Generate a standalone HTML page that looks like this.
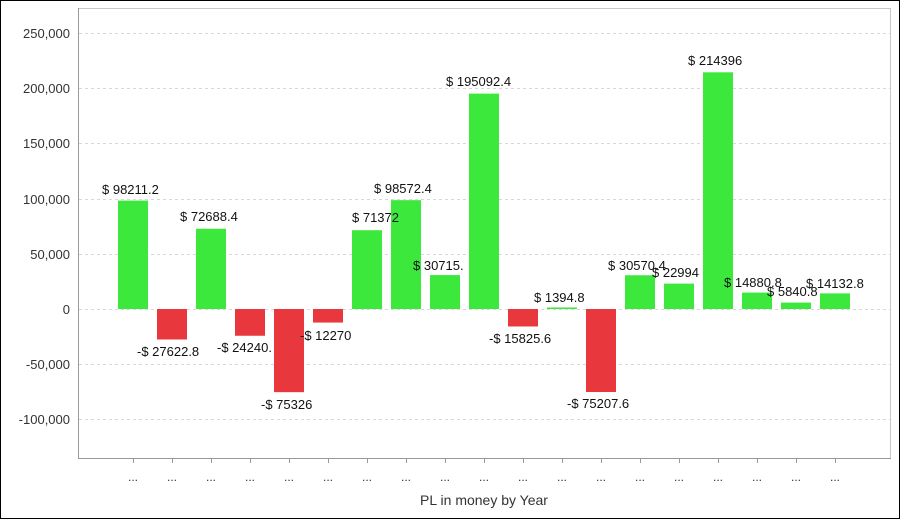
<!DOCTYPE html>
<html><head><style>html,body{margin:0;padding:0;background:#fff}svg{display:block}text{font-family:"Liberation Sans",Arial,sans-serif}</style></head>
<body>
<svg width="900" height="519" viewBox="0 0 900 519">
<rect x="0.5" y="0.5" width="899" height="518" fill="#fff" stroke="#000"/>
<rect x="78.5" y="8.5" width="812" height="450" fill="#fff" stroke="#c8c8c8"/>
<g stroke="#d8d8d8" stroke-dasharray="3,3">
<line x1="79" x2="890" y1="33.5" y2="33.5"/><line x1="79" x2="890" y1="88.5" y2="88.5"/><line x1="79" x2="890" y1="143.5" y2="143.5"/><line x1="79" x2="890" y1="199.5" y2="199.5"/><line x1="79" x2="890" y1="254.5" y2="254.5"/><line x1="79" x2="890" y1="309.5" y2="309.5"/><line x1="79" x2="890" y1="364.5" y2="364.5"/><line x1="79" x2="890" y1="419.5" y2="419.5"/>
</g>
<line x1="78.5" y1="8" x2="78.5" y2="459" stroke="#999"/>
<line x1="78" y1="458.5" x2="891" y2="458.5" stroke="#999"/>
<g font-size="13" fill="#333" text-anchor="end">
<text x="70" y="38">250,000</text><text x="70" y="93">200,000</text><text x="70" y="148">150,000</text><text x="70" y="204">100,000</text><text x="70" y="259">50,000</text><text x="70" y="314">0</text><text x="70" y="369">-50,000</text><text x="70" y="424">-100,000</text>
</g>
<g id="bars"></g>
<g font-size="13" fill="#111">
<text x="102" y="194">$ 98211.2</text>
<text x="137" y="356">-$ 27622.8</text>
<text x="180" y="221">$ 72688.4</text>
<text x="217" y="352">-$ 24240.</text>
<text x="261" y="409">-$ 75326</text>
<text x="300" y="340">-$ 12270</text>
<text x="352" y="222">$ 71372</text>
<text x="374" y="193">$ 98572.4</text>
<text x="413" y="270">$ 30715.</text>
<text x="446" y="86">$ 195092.4</text>
<text x="489" y="343">-$ 15825.6</text>
<text x="534" y="302">$ 1394.8</text>
<text x="567" y="408">-$ 75207.6</text>
<text x="608" y="270">$ 30570.4</text>
<text x="652" y="277">$ 22994</text>
<text x="688" y="65">$ 214396</text>
<text x="724" y="287">$ 14880.8</text>
<text x="767" y="296">$ 5840.8</text>
<text x="806" y="288">$ 14132.8</text>
</g>
<g id="ticks" stroke="#999"></g>
<g id="dots" font-size="12" fill="#333" text-anchor="middle"></g>
<text x="484" y="505" font-size="14" fill="#333" text-anchor="middle">PL in money by Year</text>
</svg>
<script>
var v=[98211.2,-27622.8,72688.4,-24240.5,-75326,-12270,71372.5,98572.4,30715.5,195092.4,-15825.6,1394.8,-75207.6,30570.4,22994.5,214396,14880.8,5840.8,14132.8];
var ns="http://www.w3.org/2000/svg",b=document.getElementById("bars"),t=document.getElementById("ticks"),d=document.getElementById("dots");
v.forEach(function(x,i){var c=133+39*i,h=Math.abs(x)*0.001104,y=x>=0?309-h:309;
var r=document.createElementNS(ns,"rect");r.setAttribute("x",c-15);r.setAttribute("y",y);r.setAttribute("width",30);r.setAttribute("height",Math.max(h,1));r.setAttribute("fill",x>=0?"#3de83d":"#e8383d");b.appendChild(r);
var l=document.createElementNS(ns,"line");l.setAttribute("x1",c+.5);l.setAttribute("x2",c+.5);l.setAttribute("y1",459);l.setAttribute("y2",463);t.appendChild(l);
var s=document.createElementNS(ns,"text");s.setAttribute("x",c);s.setAttribute("y",481);s.textContent="...";d.appendChild(s);});
</script>
</body></html>
